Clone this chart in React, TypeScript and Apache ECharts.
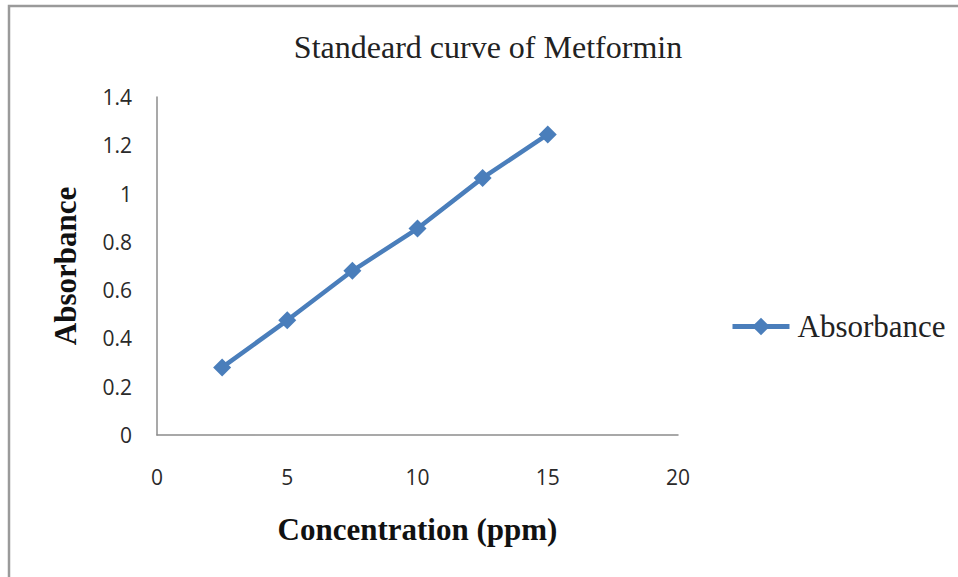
import React, { useEffect, useRef } from "react";
import * as echarts from "echarts";

const concentration = [2.5, 5, 7.5, 10, 12.5, 15];
const absorbance = [0.28, 0.475, 0.68, 0.855, 1.065, 1.245];
const xTicks = { min: 0, max: 20, interval: 5 };
const yTicks = { min: 0, max: 1.4, interval: 0.2 };
const titleText = "Standeard curve of Metformin";
const seriesName = "Absorbance";
const xName = "Concentration (ppm)";
const yName = "Absorbance";

export default function App() {
  const ref = useRef<HTMLDivElement>(null);
  useEffect(() => {
    document.body.style.margin = "0";
    const chart = echarts.init(ref.current!, null, { renderer: "svg" });
    const blue = "#4A7EBB";
    const serif = "'Liberation Serif', 'Times New Roman', serif";
    const sans = "'Open Sans', 'Liberation Sans', Arial, sans-serif";
    chart.setOption({
      animation: false,
      backgroundColor: "#ffffff",
      title: {
        text: titleText,
        left: 483,
        top: 26,
        textAlign: "center",
        textStyle: { fontFamily: serif, fontSize: 32, fontWeight: "normal", color: "#222" },
      },
      legend: {
        data: [seriesName],
        left: 730,
        top: 311,
        padding: 0,
        itemWidth: 57,
        itemHeight: 22,
        lineStyle: { width: 5, color: blue },
        textStyle: { fontFamily: serif, fontSize: 31, color: "#222", padding: [0, 0, 0, 3] },
      },
      grid: { left: 157, right: 280, top: 97, bottom: 142, containLabel: false },
      xAxis: {
        type: "value",
        min: xTicks.min,
        max: xTicks.max,
        interval: xTicks.interval,
        name: xName,
        nameLocation: "middle",
        nameGap: 79,
        nameTextStyle: { fontFamily: serif, fontSize: 31, fontWeight: "bold", color: "#111" },
        axisLine: { show: true, lineStyle: { color: "#8c8c8c", width: 1.5 } },
        axisTick: { show: false },
        splitLine: { show: false },
        axisLabel: { margin: 31, fontFamily: sans, fontSize: 21, color: "#2a2a2a" },
      },
      yAxis: {
        type: "value",
        min: yTicks.min,
        max: yTicks.max,
        interval: yTicks.interval,
        name: yName,
        nameLocation: "middle",
        nameGap: 76,
        nameTextStyle: { fontFamily: serif, fontSize: 31, fontWeight: "bold", color: "#111" },
        axisLine: { show: true, lineStyle: { color: "#8c8c8c", width: 1.5 } },
        axisTick: { show: false },
        splitLine: { show: false },
        axisLabel: { margin: 25, fontFamily: sans, fontSize: 21, color: "#2a2a2a" },
      },
      graphic: [
        {
          type: "rect",
          shape: { x: 9, y: 6, width: 980, height: 600 },
          style: { fill: "none", stroke: "#9a9a9a", lineWidth: 2.5 },
          silent: true,
        },
      ],
      series: [
        {
          name: seriesName,
          type: "line",
          data: concentration.map((c, i) => [c, absorbance[i]]),
          symbol: "diamond",
          symbolSize: 18,
          lineStyle: { color: blue, width: 4.5 },
          itemStyle: { color: blue },
        },
      ],
    });
    return () => chart.dispose();
  }, []);
  return (
    <div
      ref={ref}
      style={{ position: "absolute", left: 0, top: 0, width: 958, height: 577 }}
    />
  );
}
